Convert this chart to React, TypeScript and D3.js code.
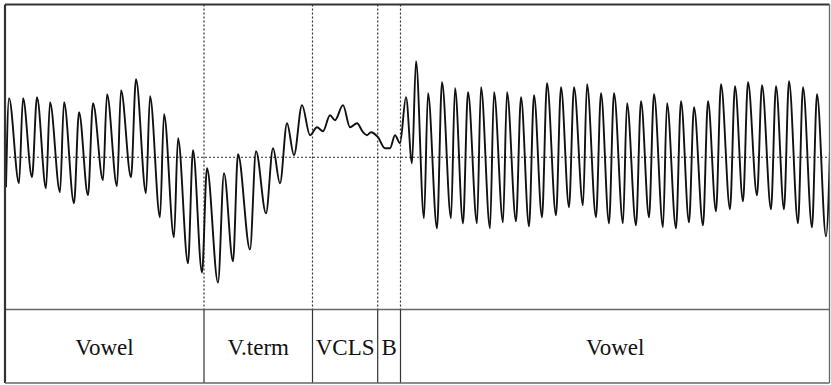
import React from "react";
import * as d3 from "d3";

// Waveform extrema: time (samples) and amplitude
const waveTimes = [
  1, 4, 14, 18, 27, 32, 41, 45, 55, 59, 69, 74, 83, 88, 98, 102, 112, 116, 126, 131,
  141, 145, 155, 159, 169, 173, 183, 188, 197, 202, 213, 219, 228, 233, 245, 251, 261, 268, 275, 282,
  289, 297, 305, 312, 318, 325, 330, 338, 345, 352, 358, 362, 366, 373, 380, 385, 390, 395, 401, 407,
  411, 419, 423, 432, 437, 446, 450, 458, 463, 472, 476, 485, 489, 498, 502, 511, 516, 524, 529, 537,
  542, 551, 556, 564, 569, 578, 582, 591, 596, 604, 609, 618, 622, 631, 636, 644, 649, 658, 662, 671,
  676, 684, 689, 698, 703, 711, 716, 725, 730, 738, 743, 752, 757, 766, 771, 779, 784, 793, 798, 807,
  812, 821, 826,
];
const waveAmps = [
  -30, 59, -26, 59, -20, 60, -31, 55, -35, 55, -46, 45, -38, 54, -23, 63, -29, 67, -20, 78,
  -36, 61, -60, 43, -80, 19, -106, 7, -115, -11, -125, -16, -104, 3, -92, 6, -56, 9, -26, 34,
  2, 52, 22, 30, 26, 42, 37, 52, 30, 34, 25, 22, 25, 20, 9, 9, 22, 14, 60, -6,
  96, -61, 64, -71, 75, -61, 69, -66, 65, -66, 70, -71, 65, -65, 65, -64, 60, -69, 62, -60,
  74, -58, 70, -50, 70, -48, 73, -60, 64, -66, 64, -66, 54, -68, 56, -60, 63, -70, 54, -71,
  56, -65, 50, -68, 56, -54, 73, -52, 71, -44, 75, -38, 72, -52, 71, -52, 76, -66, 70, -70,
  63, -79, 44,
];

// Segment boundaries (samples) and labels
const boundaries = [199, 307.5, 372.7, 395.5];
const segmentLabels = ["Vowel", "V.term", "VCLS", "B", "Vowel"];
const timeExtent = [0, 825];
const ampExtent = [-152, 152];

const serif = "'Liberation Serif', 'Times New Roman', Tinos, 'DejaVu Serif', serif";

export default function App() {
  const W = 831;
  const H = 385;
  const left = 5;
  const right = 829.5;
  const top = 4.5;
  const divY = 309.5;
  const bottom = 383;

  const x = d3.scaleLinear().domain(timeExtent).range([left, 830]);
  const y = d3.scaleLinear().domain(ampExtent).range([divY, top + 0.5]);

  const points = waveTimes.map((t, i) => [t, waveAmps[i]] as [number, number]);
  const line = d3
    .line<[number, number]>()
    .x((d) => x(d[0]))
    .y((d) => y(d[1]))
    .curve(d3.curveMonotoneX);

  const edges = [timeExtent[0], ...boundaries, timeExtent[1]];
  const bx = boundaries.map((b) => x(b));

  return (
    <svg
      width={W}
      height={H}
      style={{ position: "absolute", left: 0, top: 0, background: "#fff" }}
    >
      <defs>
        <clipPath id="plotClip">
          <rect x={left} y={top} width={right - left} height={divY - top} />
        </clipPath>
      </defs>
      <rect x={0} y={0} width={W} height={H} fill="#fff" />
      {/* midline */}
      <line
        x1={left}
        x2={right}
        y1={y(0)}
        y2={y(0)}
        stroke="#333"
        strokeWidth={1.2}
        strokeDasharray="2,2"
      />
      {/* dotted boundaries in wave area */}
      {bx.map((xx, i) => (
        <line
          key={"d" + i}
          x1={xx}
          x2={xx}
          y1={top}
          y2={divY}
          stroke="#333"
          strokeWidth={1.2}
          strokeDasharray="2,2"
        />
      ))}
      {/* waveform */}
      <path
        d={line(points) || ""}
        fill="none"
        stroke="#111"
        strokeWidth={1.9}
        strokeLinejoin="round"
        clipPath="url(#plotClip)"
      />
      {/* label row */}
      <line x1={left} x2={right} y1={divY} y2={divY} stroke="#666" strokeWidth={1.5} />
      {bx.map((xx, i) => (
        <line key={"s" + i} x1={xx} x2={xx} y1={divY} y2={bottom} stroke="#333" strokeWidth={1.2} />
      ))}
      {segmentLabels.map((lab, i) => (
        <text
          key={"t" + i}
          x={(x(edges[i]) + x(edges[i + 1])) / 2}
          y={355}
          textAnchor="middle"
          style={{ fontFamily: serif, fontSize: "23px" }}
          fill="#111"
        >
          {lab}
        </text>
      ))}
      {/* frame */}
      <line x1={left} x2={right} y1={top} y2={top} stroke="#333" strokeWidth={2.2} />
      <line x1={left} x2={left} y1={top} y2={bottom} stroke="#333" strokeWidth={2.2} />
      <line x1={right} x2={right} y1={top} y2={bottom} stroke="#666" strokeWidth={1.3} />
      <line x1={left} x2={right} y1={bottom} y2={bottom} stroke="#666" strokeWidth={1.3} />
    </svg>
  );
}
